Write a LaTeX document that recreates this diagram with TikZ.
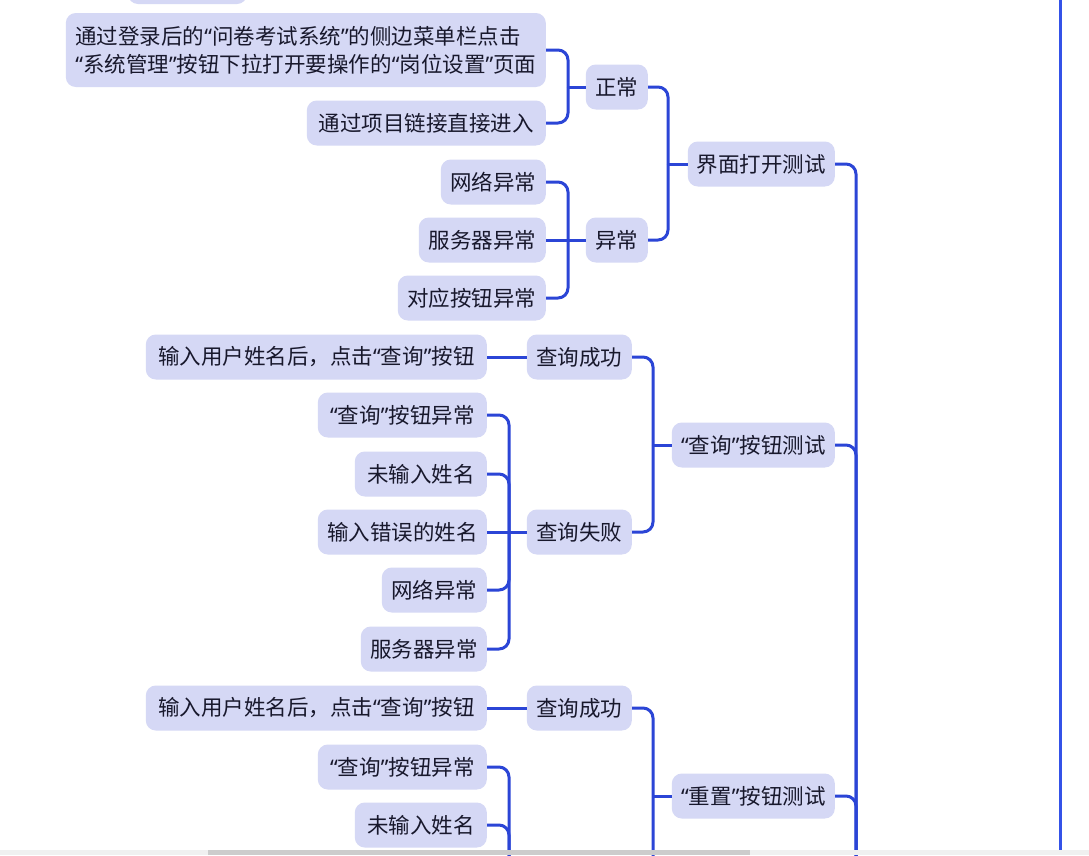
\documentclass[tikz,border=0pt]{standalone}
\usepackage{fontspec}
\newfontfamily\cjk{Noto Sans CJK SC}
\newfontfamily\qfont{Noto Sans}
\newcommand\myq[1]{{\qfont “}#1{\qfont ”}}
\definecolor{nodefill}{RGB}{213,216,245}
\definecolor{linkc}{RGB}{43,69,214}
\definecolor{txt}{RGB}{24,24,44}
\definecolor{vlinec}{RGB}{52,82,232}
\tikzset{
  box/.style={rectangle, rounded corners=10pt, fill=nodefill, text=txt,
    inner xsep=9pt, inner ysep=0pt, minimum height=45pt,
    font=\cjk\fontsize{21.5}{28}\selectfont, anchor=east},
  link/.style={draw=linkc, line width=3pt, rounded corners=10pt}
}
\begin{document}
\begin{tikzpicture}[x=1pt,y=-1pt]
\useasboundingbox (0,0) rectangle (1089,855);
\clip (0,0) rectangle (1089,855);
\fill[white] (0,0) rectangle (1089,855);
% partial node at the top
\fill[nodefill, rounded corners=10pt] (128,-40) rectangle (247,4);
% nodes
\node[box, minimum width=480pt, minimum height=74pt, align=left] (n1) at (546,50)
  {通过登录后的\myq{问卷考试系统}的侧边菜单栏点击\\\myq{系统管理}按钮下拉打开要操作的\myq{岗位设置}页面};
\node[box, minimum width=239pt] (n2) at (546,123) {通过项目链接直接进入};
\node[box, minimum width=62pt] (zc) at (648,87) {正常};
\node[box, minimum width=105pt] (wl1) at (546,182) {网络异常};
\node[box, minimum width=127pt] (fw1) at (546,240) {服务器异常};
\node[box, minimum width=148pt] (dy) at (546,298) {对应按钮异常};
\node[box, minimum width=62pt] (yc) at (648,240) {异常};
\node[box, minimum width=147pt] (t1) at (835,164) {界面打开测试};
\node[box, minimum width=341pt] (a1) at (487,357) {输入用户姓名后，点击\myq{查询}按钮};
\node[box, minimum width=105pt] (s1) at (632,357) {查询成功};
\node[box, minimum width=169pt] (b1) at (487,415) {\myq{查询}按钮异常};
\node[box, minimum width=132pt] (b2) at (487,474) {未输入姓名};
\node[box, minimum width=169pt] (b3) at (487,532) {输入错误的姓名};
\node[box, minimum width=105pt] (b4) at (487,590) {网络异常};
\node[box, minimum width=126pt] (b5) at (487,649) {服务器异常};
\node[box, minimum width=105pt] (f1) at (632,532) {查询失败};
\node[box, minimum width=163pt] (t2) at (835,445) {\myq{查询}按钮测试};
\node[box, minimum width=341pt] (a2) at (487,708) {输入用户姓名后，点击\myq{查询}按钮};
\node[box, minimum width=105pt] (s2) at (632,708) {查询成功};
\node[box, minimum width=169pt] (c1) at (487,767) {\myq{查询}按钮异常};
\node[box, minimum width=132pt] (c2) at (487,825) {未输入姓名};
\node[box, minimum width=163pt] (t3) at (835,796) {\myq{重置}按钮测试};
% bus coordinates
\coordinate (bz) at (568,87);
\coordinate (by) at (568,240);
\coordinate (bt1) at (668,164);
\coordinate (rb) at (856,900);
\coordinate (bs) at (653,445);
\coordinate (bf) at (509,532);
\coordinate (bs3) at (653,900);
\coordinate (bj3) at (653,796);
\coordinate (bc) at (509,900);
% connectors
\draw[link] (n1.east) -| (bz);
\draw[link] (n2.east) -| (bz);
\draw[link] (bz) -- (zc.west);
\draw[link] (wl1.east) -| (by);
\draw[link] (dy.east) -| (by);
\draw[link] (fw1.east) -- (yc.west);
\draw[link] (zc.east) -| (bt1);
\draw[link] (yc.east) -| (bt1);
\draw[link] (bt1) -- (t1.west);
\draw[link] (t1.east) -| (rb);
\draw[link] (t2.east) -| (rb);
\draw[link] (t3.east) -| (rb);
\draw[link] (a1.east) -- (s1.west);
\draw[link] (s1.east) -| (bs);
\draw[link] (f1.east) -| (bs);
\draw[link] (bs) -- (t2.west);
\draw[link] (b1.east) -| (bf);
\draw[link] (b2.east) -| (bf);
\draw[link] (b4.east) -| (bf);
\draw[link] (b5.east) -| (bf);
\draw[link] (b3.east) -- (f1.west);
\draw[link] (a2.east) -- (s2.west);
\draw[link] (s2.east) -| (bs3);
\draw[link] (bj3) -- (t3.west);
\draw[link] (c1.east) -| (bc);
\draw[link] (c2.east) -| (bc);
% right vertical line
\draw[vlinec, line width=3pt] (1060,-5) -- (1060,850);
% bottom scroll strip
\fill[black!6] (0,850) rectangle (1089,855);
\fill[black!20] (208,850) rectangle (750,855);
\end{tikzpicture}
\end{document}
